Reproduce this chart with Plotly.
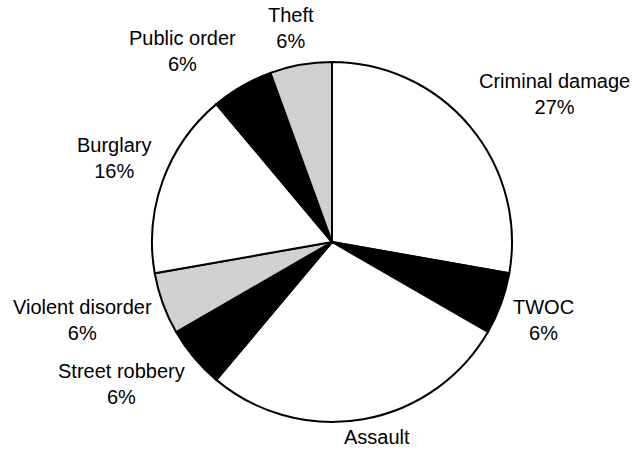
import math
import plotly.graph_objects as go

# ---- data ----
categories = ["Criminal damage", "TWOC", "Assault", "Street robbery",
              "Violent disorder", "Burglary", "Public order", "Theft"]
counts = [5, 1, 5, 1, 1, 3, 1, 1]
pct_labels = ["27%", "6%", "27%", "6%", "6%", "16%", "6%", "6%"]

# ---- styles ----
fills = ["white", "black", "white", "black", "#d8d8d8", "white", "black", "#d8d8d8"]
patterns = ["", "", "", "", ".", "", "", "."]

W, H = 634, 453
CX, CY, R = 332, 242, 180          # pie centre / radius in pixels
FONT = 20
LINE_H = 44                        # visual height of the 2-line label block
Y_SHIFT = -3                       # small upward nudge of label text

ARIAL = {'C': 722, 'r': 333, 'i': 222, 'm': 833, 'n': 556, 'a': 556, 'l': 222,
         ' ': 278, 'd': 556, 'g': 556, 'e': 556, 'T': 611, 'W': 944, 'O': 778,
         'A': 667, 's': 500, 'u': 556, 't': 278, 'S': 667, 'o': 556, 'b': 556,
         'y': 500, 'V': 667, 'B': 667, 'P': 667, 'c': 500, 'h': 556, 'f': 278,
         '%': 889}


def text_w(s):
    return sum(ARIAL.get(ch, 556) for ch in s) * FONT / 1000.0


fig = go.Figure()
fig.add_trace(go.Pie(
    labels=categories, values=counts, sort=False, direction="clockwise",
    rotation=0, textinfo="none", hoverinfo="label+percent",
    marker=dict(colors=fills, line=dict(color="black", width=2),
                pattern=dict(shape=patterns, fgcolor="#8a8a8a", bgcolor="white",
                             size=2, solidity=0.45)),
    domain=dict(x=[(CX - R) / W, (CX + R) / W],
                y=[(H - CY - R) / H, (H - CY + R) / H]),
    showlegend=False,
))

total = sum(counts)
cum = 0
annotations = []
for name, v, p in zip(categories, counts, pct_labels):
    mid = (cum + v / 2) / total * 2 * math.pi
    cum += v
    s, c = math.sin(mid), math.cos(mid)
    rr = R * 1.067
    qx, qy = rr * s, -rr * c
    w = max(text_w(name), text_w(p))
    sx = max(-1, min(1, 2 * s))
    sy = max(-1, min(1, 2 * c))
    px = CX + qx + w / 2 * sx
    py = CY + qy - LINE_H / 2 * sy + Y_SHIFT
    annotations.append(dict(
        x=px / W, y=1 - py / H, xref="paper", yref="paper",
        text=f"{name}<br>{p}", showarrow=False, xanchor="center", yanchor="middle",
        align="center", font=dict(size=FONT, color="black",
                                  family="Liberation Sans, Arial, sans-serif")))

fig.update_layout(
    width=W, height=H, margin=dict(l=0, r=0, t=0, b=0),
    paper_bgcolor="white", plot_bgcolor="white",
    annotations=annotations,
    font=dict(family="Liberation Sans, Arial, sans-serif", color="black"),
)

fig.write_html("out.html")
